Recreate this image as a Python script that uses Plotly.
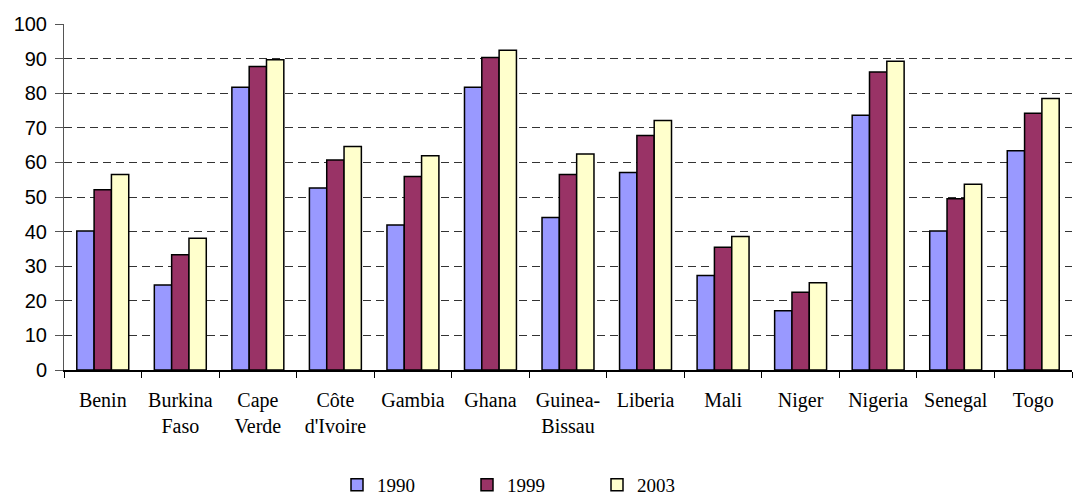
import plotly.graph_objects as go

countries = ["Benin", "Burkina<br>Faso", "Cape<br>Verde", "Côte<br>d'Ivoire", "Gambia", "Ghana",
             "Guinea-<br>Bissau", "Liberia", "Mali", "Niger", "Nigeria", "Senegal", "Togo"]
years = ["1990", "1999", "2003"]
v1990 = [40.2, 24.6, 81.7, 52.6, 41.9, 81.7, 44.1, 57.1, 27.3, 17.1, 73.6, 40.2, 63.4]
v1999 = [52.1, 33.3, 87.7, 60.7, 55.9, 90.3, 56.5, 67.8, 35.5, 22.5, 86.1, 49.5, 74.2]
v2003 = [56.5, 38.1, 89.7, 64.6, 61.9, 92.4, 62.4, 72.1, 38.6, 25.2, 89.2, 53.7, 78.5]
colors = ["#9999FF", "#993366", "#FFFFCC"]

fig = go.Figure()
for name, vals, col in zip(years, [v1990, v1999, v2003], colors):
    fig.add_trace(go.Bar(
        x=countries, y=vals, name=name,
        marker=dict(color=col, line=dict(color="black", width=1.5)),
    ))

serif = "Liberation Serif, Times New Roman, serif"
fig.update_layout(
    width=1074, height=499,
    margin=dict(l=64, r=2, t=24, b=129),
    paper_bgcolor="white", plot_bgcolor="white",
    barmode="group", bargap=0.33, bargroupgap=0,
    font=dict(family=serif, color="black", size=18),
    legend=dict(orientation="h", xref="container", yref="container",
                x=337 / 1074, xanchor="left", y=1 - 466 / 499, yanchor="top",
                font=dict(family=serif, size=19, color="black"),
                entrywidth=85, traceorder="normal"),
    showlegend=True,
)
fig.update_xaxes(
    type="category", showline=True, linecolor="black", linewidth=1.5,
    ticks="outside", tickson="boundaries", ticklen=6, tickcolor="black",
    tickfont=dict(family=serif, size=20), showgrid=False,
    automargin=False, ticklabelstandoff=11,
)
fig.update_yaxes(
    range=[0, 100], dtick=10, showline=True, linecolor="#555", linewidth=1,
    ticks="outside", ticklen=8, tickcolor="#555",
    tickfont=dict(family="Liberation Sans, Arial, sans-serif", size=20),
    showgrid=True, gridcolor="#333", gridwidth=1, griddash="8px,5px",
    zeroline=False, automargin=False, ticklabelstandoff=4,
)

fig.write_html("out.html")
